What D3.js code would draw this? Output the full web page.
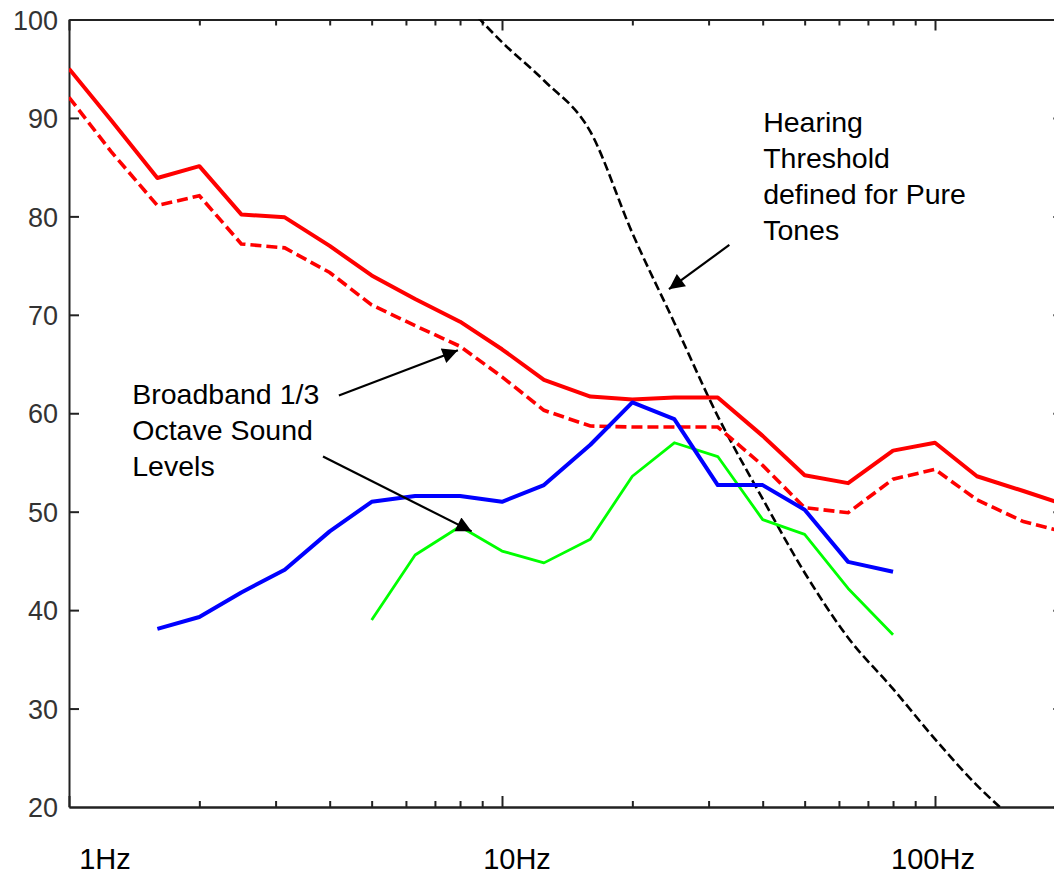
<!DOCTYPE html>
<html>
<head>
<meta charset="utf-8">
<script src="https://cdn.jsdelivr.net/npm/d3@7"></script>
<style>
  html, body { margin: 0; padding: 0; background: #fff; }
  svg { display: block; }
</style>
</head>
<body>
<svg id="chart" width="1054" height="875"></svg>
<script>
// ---------------- DATA ----------------
const freqs = [1, 1.25, 1.6, 2, 2.5, 3.15, 4, 5, 6.3, 8, 10, 12.5, 16, 20, 25, 31.5, 40, 50, 63, 80, 100, 125, 160, 200];
const redSolid  = [95.0, 89.8, 83.9, 85.1, 80.2, 79.9, 77.0, 74.0, 71.6, 69.3, 66.5, 63.4, 61.7, 61.4, 61.6, 61.6, 57.7, 53.7, 52.9, 56.2, 57.0, 53.6, 52.1, 50.7];
const redDashed = [92.1, 86.6, 81.1, 82.1, 77.2, 76.8, 74.3, 71.0, 68.9, 66.8, 63.7, 60.3, 58.7, 58.6, 58.6, 58.6, 54.7, 50.4, 49.9, 53.3, 54.3, 51.2, 49.0, 47.9];

const blueFreqs = [1.6, 2, 2.5, 3.15, 4, 5, 6.3, 8, 10, 12.5, 16, 20, 25, 31.5, 40, 50, 63, 80];
const blueVals  = [38.1, 39.3, 41.8, 44.1, 48.0, 51.0, 51.6, 51.6, 51.0, 52.7, 56.8, 61.1, 59.4, 52.7, 52.7, 50.2, 44.9, 43.9];

const greenFreqs = [5, 6.3, 8, 10, 12.5, 16, 20, 25, 31.5, 40, 50, 63, 80];
const greenVals  = [39.0, 45.6, 48.5, 46.0, 44.8, 47.2, 53.6, 57.0, 55.6, 49.2, 47.7, 42.2, 37.5];

const thrFreqs = [8, 10, 12.5, 16, 20, 25, 31.5, 40, 50, 63, 80, 100, 125, 160];
const thrVals  = [102.2, 97.7, 93.8, 88.6, 78.3, 69.2, 59.7, 51.3, 43.8, 37.2, 32.0, 26.9, 22.2, 17.9];

const yTicks = [20, 30, 40, 50, 60, 70, 80, 90, 100];
const xMajor = [1, 10, 100];
const xLabels = ["1Hz", "10Hz", "100Hz"];

const hearingText = ["Hearing", "Threshold", "defined for Pure", "Tones"];
const broadbandText = ["Broadband 1/3", "Octave Sound", "Levels"];

// annotation anchor points in data units [freq, dB]
const hearingTextPos = [40.1, 88.6];
const broadbandTextPos = [1.4, 60.9];
const arrows = [
  { from: [33.5, 77.1], to: [24.3, 72.6] },
  { from: [4.20, 61.8], to: [7.91, 66.4] },
  { from: [3.86, 55.6], to: [8.51, 48.0] }
];

(function () {
// ---------------- LAYOUT ----------------
const svg = d3.select("#chart");
const mLeft = 69, mTop = 19.5, mBottom = 807;
const decade = 433;
const mRight = mLeft + decade * Math.log10(200);

const x = d3.scaleLog().domain([1, 200]).range([mLeft, mRight]);
const y = d3.scaleLinear().domain([20, 100]).range([mBottom, mTop]);

svg.append("rect").attr("width", 1054).attr("height", 875).attr("fill", "#fff");

const defs = svg.append("defs");
defs.append("clipPath").attr("id", "plotclip")
  .append("rect").attr("x", mLeft).attr("y", mTop).attr("width", mRight - mLeft).attr("height", mBottom - mTop);

defs.append("marker")
  .attr("id", "arrowhead").attr("viewBox", "0 0 10 10")
  .attr("refX", 10).attr("refY", 5)
  .attr("markerWidth", 9).attr("markerHeight", 7)
  .attr("markerUnits", "strokeWidth")
  .attr("orient", "auto")
  .append("path").attr("d", "M0,0 L10,5 L0,10 Z").attr("fill", "#000");

// minor tick values
const minor = [];
[1, 10, 100].forEach(d => { for (let k = 2; k <= 9; k++) { const v = k * d; if (v < 200) minor.push(v); } });

const axisColor = "#222";
function styleAxis(g) {
  g.selectAll("path.domain").attr("stroke", axisColor).attr("stroke-width", 2);
  g.selectAll(".tick line").attr("stroke", axisColor).attr("stroke-width", 2);
}

// bottom axis (ticks inward -> up)
svg.append("g").attr("transform", `translate(0,${mBottom})`)
  .call(d3.axisTop(x).tickValues(minor).tickSize(6).tickSizeOuter(0).tickFormat(""))
  .call(styleAxis);
svg.append("g").attr("transform", `translate(0,${mBottom})`)
  .call(d3.axisTop(x).tickValues(xMajor).tickSize(11).tickSizeOuter(0).tickFormat(""))
  .call(styleAxis);
// top axis (ticks inward -> down)
svg.append("g").attr("transform", `translate(0,${mTop})`)
  .call(d3.axisBottom(x).tickValues(minor).tickSize(6).tickSizeOuter(0).tickFormat(""))
  .call(styleAxis);
svg.append("g").attr("transform", `translate(0,${mTop})`)
  .call(d3.axisBottom(x).tickValues(xMajor).tickSize(11).tickSizeOuter(0).tickFormat(""))
  .call(styleAxis);
// left axis
const gl = svg.append("g").attr("transform", `translate(${mLeft},0)`)
  .call(d3.axisLeft(y).tickValues(yTicks).tickSize(-10).tickSizeOuter(0).tickPadding(11).tickFormat(d3.format("d")))
  .call(styleAxis);
gl.selectAll(".tick text").attr("font-family", "Liberation Sans, Arial, sans-serif")
  .attr("font-size", 27).attr("fill", "#333").attr("dy", "0.36em");
gl.selectAll(".tick").filter(d => d === 20 || d === 100).select("line").remove();
// right axis (ticks inward -> left)
svg.append("g").attr("transform", `translate(${mRight},0)`)
  .call(d3.axisLeft(y).tickValues(yTicks).tickSize(12).tickSizeOuter(0).tickFormat(""))
  .call(styleAxis);

// x labels
const xLabelDx = [36, 15, -2];
svg.append("g").selectAll("text").data(xMajor).join("text")
  .attr("x", (d, i) => x(d) + xLabelDx[i])
  .attr("y", 869)
  .attr("text-anchor", "middle")
  .attr("font-family", "Liberation Sans, Arial, sans-serif")
  .attr("font-size", 29).attr("fill", "#000")
  .text((d, i) => xLabels[i]);

// ---------------- LINES ----------------
const plot = svg.append("g").attr("clip-path", "url(#plotclip)");
const line = d3.line().x(d => x(d[0])).y(d => y(d[1]));
const smoothLine = d3.line().x(d => x(d[0])).y(d => y(d[1])).curve(d3.curveMonotoneX);
function series(fs, vs) { return fs.map((f, i) => [f, vs[i]]); }

plot.append("path").datum(series(thrFreqs, thrVals)).attr("d", smoothLine)
  .attr("fill", "none").attr("stroke", "#000").attr("stroke-width", 2.6)
  .attr("stroke-dasharray", "9,4");

plot.append("path").datum(series(freqs, redDashed)).attr("d", line)
  .attr("fill", "none").attr("stroke", "#ff0000").attr("stroke-width", 3.6)
  .attr("stroke-dasharray", "11,5");

plot.append("path").datum(series(freqs, redSolid)).attr("d", line)
  .attr("fill", "none").attr("stroke", "#ff0000").attr("stroke-width", 4)
  .attr("stroke-linejoin", "round");

plot.append("path").datum(series(greenFreqs, greenVals)).attr("d", line)
  .attr("fill", "none").attr("stroke", "#00ff00").attr("stroke-width", 2.8)
  .attr("stroke-linejoin", "round");

plot.append("path").datum(series(blueFreqs, blueVals)).attr("d", line)
  .attr("fill", "none").attr("stroke", "#0000ff").attr("stroke-width", 4)
  .attr("stroke-linejoin", "round");

// ---------------- ANNOTATIONS ----------------
function textBlock(lines, pos) {
  svg.append("text")
    .attr("font-family", "Liberation Sans, Arial, sans-serif")
    .attr("font-size", 28.5).attr("fill", "#000")
    .selectAll("tspan").data(lines).join("tspan")
    .attr("x", x(pos[0]))
    .attr("y", (d, i) => y(pos[1]) + i * 36)
    .text(d => d);
}
textBlock(hearingText, hearingTextPos);
textBlock(broadbandText, broadbandTextPos);

svg.append("g").selectAll("line").data(arrows).join("line")
  .attr("x1", d => x(d.from[0])).attr("y1", d => y(d.from[1]))
  .attr("x2", d => x(d.to[0])).attr("y2", d => y(d.to[1]))
  .attr("stroke", "#000").attr("stroke-width", 2.2)
  .attr("marker-end", "url(#arrowhead)");
})();
</script>
</body>
</html>
